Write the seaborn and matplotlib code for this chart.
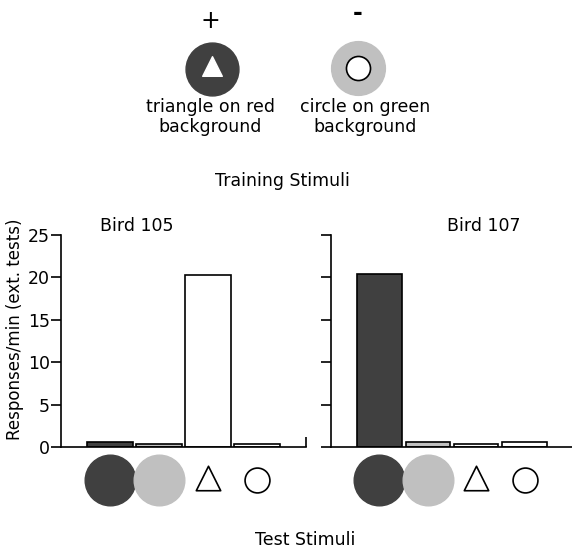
import numpy as np
import pandas as pd
import matplotlib
matplotlib.use("Agg")
import matplotlib.pyplot as plt
import matplotlib.transforms as mtransforms
import seaborn as sns

# -----------------------------
# data
# -----------------------------
stimuli = ["red bg", "green bg", "triangle", "circle"]
bird_105 = [0.6, 0.3, 20.3, 0.3]
bird_107 = [20.4, 0.6, 0.3, 0.6]
bar_colors = ["#404040", "#c0c0c0", "#ffffff", "#ffffff"]
yticks = [0, 5, 10, 15, 20, 25]

sns.set_theme(style="ticks")
plt.rcParams["font.family"] = ["DejaVu Sans"]
plt.rcParams["axes.linewidth"] = 1.2
plt.rcParams["text.color"] = "black"
plt.rcParams["xtick.color"] = "black"
plt.rcParams["ytick.color"] = "black"

FS = 12.5

fig = plt.figure(figsize=(5.72, 5.54), dpi=100)
W, H = 572, 554

ax1 = fig.add_axes([61 / W, (H - 447) / H, 245 / W, 212 / H])
ax2 = fig.add_axes([331 / W, (H - 447) / H, 242 / W, 212 / H])


def draw_panel(ax, values, title, show_labels):
    df = pd.DataFrame({"stim": stimuli, "rate": values})
    sns.barplot(data=df, x="stim", y="rate", hue="stim", palette=bar_colors,
                legend=False, ax=ax, edgecolor="black", linewidth=1.2,
                width=0.92, saturation=1)
    ax.set_xlim(-1, 4)
    ax.set_ylim(0, 25)
    ax.set_yticks(yticks)
    ax.set_xticks([4])
    ax.set_xticklabels([])
    ax.tick_params(axis="x", direction="in", length=7, width=1.2, color="black")
    ax.tick_params(axis="y", direction="out", length=7, width=1.2, color="black",
                   labelsize=FS, pad=1)
    if not show_labels:
        ax.set_yticklabels([])
    ax.set_xlabel("")
    ax.set_ylabel("")
    for s in ["top", "right"]:
        ax.spines[s].set_visible(False)
    for s in ["left", "bottom"]:
        ax.spines[s].set_color("black")
    ax.set_title(title, fontsize=FS, pad=1)

    # test stimulus icons under each bar
    trans = mtransforms.blended_transform_factory(ax.transData, ax.transAxes)
    yy = -0.155
    ax.scatter([0], [yy], s=1330, c="#404040", marker="o", transform=trans, clip_on=False)
    ax.scatter([1], [yy], s=1330, c="#c0c0c0", marker="o", transform=trans, clip_on=False)
    ax.scatter([2], [yy + 0.01], s=310, c="white", marker="^", edgecolors="black",
               linewidths=1.2, transform=trans, clip_on=False)
    ax.scatter([3], [yy], s=320, c="white", marker="o", edgecolors="black",
               linewidths=1.2, transform=trans, clip_on=False)


draw_panel(ax1, bird_105, "Bird 105", True)
draw_panel(ax2, bird_107, "Bird 107", False)
ax1.title.set_position((0.31, 1.0))
ax2.title.set_position((0.63, 1.0))

# -----------------------------
# training stimuli on top (pixel overlay)
# -----------------------------
ov = fig.add_axes([0, 0, 1, 1], zorder=-1)
ov.set_xlim(0, W)
ov.set_ylim(H, 0)
ov.axis("off")

ov.scatter([212], [69], s=1450, c="#404040", marker="o")
ov.scatter([212], [66], s=200, c="white", marker="^")
ov.scatter([358], [68], s=1500, c="#c0c0c0", marker="o")
ov.scatter([358], [68], s=300, c="white", marker="o", edgecolors="black", linewidths=1.2)

ov.text(210, 21, "+", ha="center", va="center", fontsize=17)
ov.text(358, 13, "-", ha="center", va="center", fontsize=17, fontweight="bold")
ov.text(210, 117, "triangle on red\nbackground", ha="center", va="center",
        fontsize=FS, linespacing=1.15)
ov.text(365, 117, "circle on green\nbackground", ha="center", va="center",
        fontsize=FS, linespacing=1.15)
ov.text(282, 181, "Training Stimuli", ha="center", va="center", fontsize=FS)
ov.text(305, 540, "Test Stimuli", ha="center", va="center", fontsize=FS)
ov.text(15, 329, "Responses/min (ext. tests)", ha="center", va="center",
        rotation=90, fontsize=12)

fig.savefig("out.png", dpi=100)
plt.close(fig)
